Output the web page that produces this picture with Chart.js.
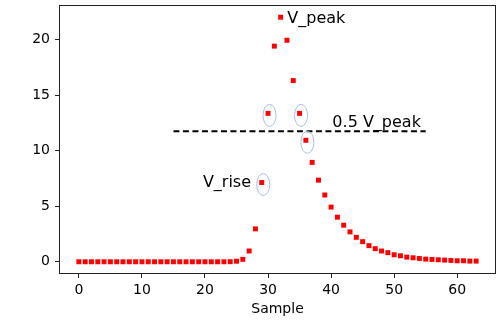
<!DOCTYPE html>
<html>
<head>
<meta charset="utf-8">
<script src="https://cdn.jsdelivr.net/npm/chart.js@4"></script>
<style>
  html, body { margin: 0; padding: 0; background: #fff; }
  #wrap { width: 500px; height: 320px; }
</style>
</head>
<body>
<div id="wrap"><canvas id="c" width="500" height="320"></canvas></div>
<script>
// signal samples
const samples = [];
for (let i = 0; i < 64; i++) samples.push(i);
const volts = [
    0, 0, 0, 0, 0, 0, 0, 0, 0, 0,
    0, 0, 0, 0, 0, 0, 0, 0, 0, 0,
    0, 0, 0, 0, 0.01, 0.05, 0.22, 0.97, 2.96, 7.13,
    13.35, 19.4, 22.0, 19.93, 16.3, 13.35, 10.93, 8.94, 7.34, 6.01,
    4.92, 4.01, 3.29, 2.69, 2.2, 1.81, 1.45, 1.18, 0.97, 0.82,
    0.63, 0.54, 0.42, 0.36, 0.3, 0.24, 0.21, 0.18, 0.15, 0.12,
    0.09, 0.09, 0.06, 0.06
];
// half peak level line
const halfLineX = [15, 55];
const halfLineY = 11.75;
// circled samples
const circled = [29, 30, 35, 36];
// labels: [text, x, y(baseline), align]
const notes = [
    ['V_peak', 33.05, 21.45, 'left'],
    ['0.5 V_peak', 40.2, 12.15, 'left'],
    ['V_rise', 19.67, 6.73, 'left']
];
const xTicks = [0, 10, 20, 30, 40, 50, 60];
const yTicks = [0, 5, 10, 15, 20];

const points = samples.map((s, i) => ({ x: s, y: volts[i] }));
const halfLine = halfLineX.map(x => ({ x: x, y: halfLineY }));

const extras = {
    id: 'extras',
    afterDatasetsDraw(chart) {
        const ctx = chart.ctx;
        const xs = chart.scales.x, ys = chart.scales.y;
        const a = chart.chartArea;
        ctx.save();
        // ellipses
        ctx.strokeStyle = '#aabfe0';
        ctx.lineWidth = 1;
        circled.forEach(i => {
            const px = xs.getPixelForValue(samples[i]) + 1.5;
            const py = ys.getPixelForValue(volts[i]) + 2;
            ctx.beginPath();
            ctx.ellipse(px, py, 6.5, 11, 0, 0, Math.PI * 2);
            ctx.stroke();
        });
        // text
        ctx.fillStyle = '#000';
        ctx.font = '16px "DejaVu Sans"';
        ctx.textBaseline = 'alphabetic';
        notes.forEach(n => {
            ctx.textAlign = n[3];
            ctx.fillText(n[0], xs.getPixelForValue(n[1]), ys.getPixelForValue(n[2]));
        });
        // frame
        ctx.strokeStyle = '#222';
        ctx.lineWidth = 1;
        ctx.strokeRect(a.left + 0.5, a.top + 0.5, a.right - a.left - 1, a.bottom - a.top - 1);
        ctx.restore();
    }
};

new Chart(document.getElementById('c'), {
    type: 'scatter',
    data: {
        datasets: [{
            data: halfLine,
            type: 'line',
            borderColor: '#000',
            borderWidth: 2,
            borderDash: [6, 3.5],
            pointRadius: 0,
            fill: false,
            order: 2
        }, {
            data: points,
            pointStyle: 'rect',
            pointRadius: 3.5,
            pointBorderWidth: 0,
            backgroundColor: '#ff0000',
            borderColor: '#ff0000',
            order: 1
        }]
    },
    options: {
        responsive: false,
        animation: false,
        layout: { padding: { top: 5, right: 2, left: 0, bottom: 0 } },
        plugins: {
            legend: { display: false },
            tooltip: { enabled: false }
        },
        scales: {
            x: {
                type: 'linear',
                min: -3.15,
                max: 66.15,
                afterBuildTicks: s => { s.ticks = xTicks.map(v => ({ value: v })); },
                afterFit: s => { s.height = 46; s.paddingLeft = 0; s.paddingRight = 0; },
                border: { display: false },
                grid: { drawOnChartArea: false, drawTicks: true, tickLength: 4, color: '#222' },
                ticks: { color: '#000', font: { family: 'DejaVu Sans', size: 14 }, padding: 4, maxRotation: 0 },
                title: { display: true, text: 'Sample', color: '#000', font: { family: 'DejaVu Sans', size: 14 }, padding: { top: 0, bottom: 2 } }
            },
            y: {
                type: 'linear',
                min: -1.1,
                max: 23.1,
                afterBuildTicks: s => { s.ticks = yTicks.map(v => ({ value: v })); },
                afterFit: s => { s.width = 59; s.paddingTop = 0; s.paddingBottom = 0; },
                border: { display: false },
                grid: { drawOnChartArea: false, drawTicks: true, tickLength: 4, color: '#222' },
                ticks: { color: '#000', font: { family: 'DejaVu Sans', size: 14 }, padding: 5 }
            }
        }
    },
    plugins: [extras]
});
</script>
</body>
</html>
